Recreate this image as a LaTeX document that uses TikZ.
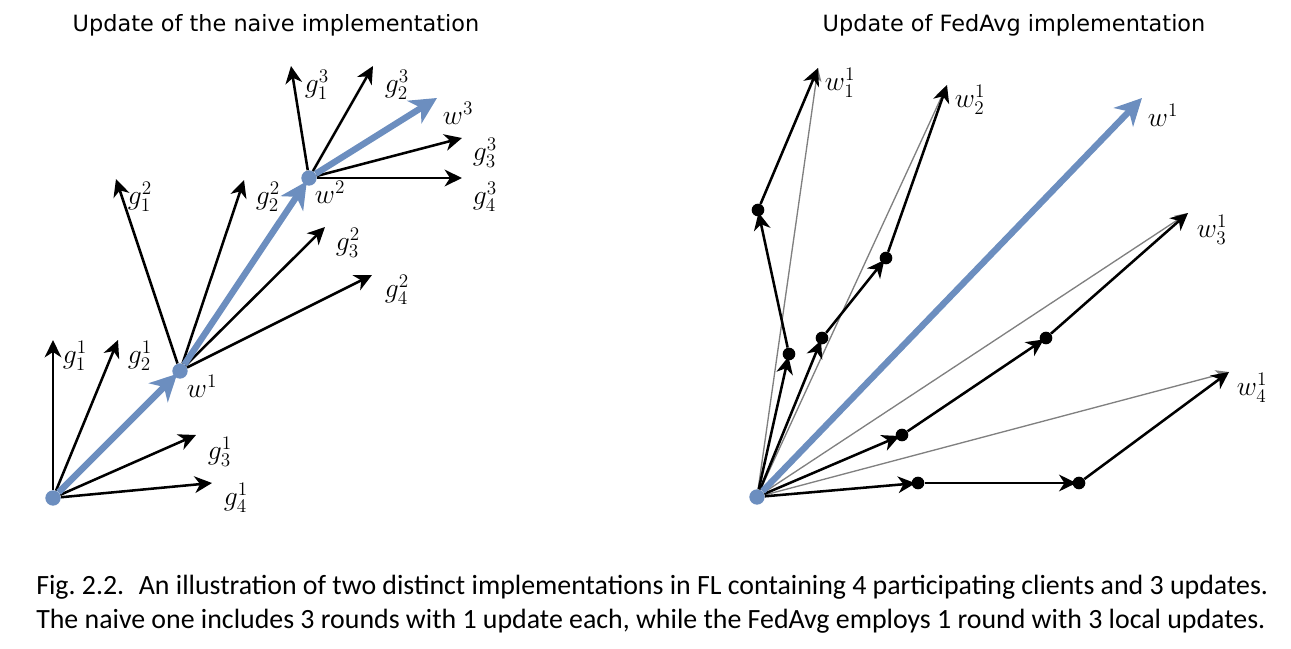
\documentclass[tikz,border=0pt]{standalone}
\usepackage{fontspec}
\newfontfamily\titlefont{DejaVu Sans}
\newfontfamily\captionfont{Carlito}
\usetikzlibrary{arrows.meta}
\definecolor{fedblue}{RGB}{108,142,191}
\tikzset{
  grad/.style={line width=1.9pt,-{Stealth[length=13pt,width=12.5pt,inset=4pt]}},
  avg/.style={line width=4.8pt,fedblue,-{Stealth[length=20pt,width=20pt,inset=6pt]}},
  sum/.style={line width=1pt,gray,-{Stealth[length=10pt,width=8pt,inset=2.5pt]}},
  into/.style={shorten >=-3pt},
  lbl/.style={inner sep=0pt,font=\fontsize{20.74}{24}\selectfont},
  title/.style={inner sep=0pt,font=\titlefont\fontsize{16.8}{20}\selectfont},
  bdot/.style={circle,fill=fedblue,minimum size=11.5pt,inner sep=0pt},
  kdot/.style={circle,fill=black,minimum size=9.5pt,inner sep=0pt}
}
\begin{document}
\begin{tikzpicture}[x=0.75pt,y=-0.75pt]
  \useasboundingbox (0,0) rectangle (1291,649);
  \node[title] (ltitle) at (276,25) {Update of the naive implementation};
  \node[title] (rtitle) at (1014,25) {Update of FedAvg implementation};
  \draw
    (53,498) node[bdot] (o){}
    (180,371) node[bdot] (w1){}
    (309,178) node[bdot] (w2){}
    (437,98) coordinate (w3)
    (53,340) coordinate (g11)
    (118,340) coordinate (g21)
    (196,435) coordinate (g31)
    (212,483) coordinate (g41)
    (116,179) coordinate (g12)
    (244,180) coordinate (g22)
    (325,227) coordinate (g32)
    (372,275) coordinate (g42)
    (291,66) coordinate (g13)
    (373,66) coordinate (g23)
    (462,138) coordinate (g33)
    (462,178) coordinate (g43);
  \begin{scope}[grad]
    \draw (o) to (g11);
    \draw (o) to (g21);
    \draw (o) to (g31);
    \draw (o) to (g41);
    \draw (w1) to (g12);
    \draw (w1) to (g22);
    \draw (w1) to (g32);
    \draw (w1) to (g42);
    \draw (w2) to (g13);
    \draw (w2) to (g23);
    \draw (w2) to (g33);
    \draw (w2) to (g43);
  \end{scope}
  \begin{scope}[avg]
    \draw[into] (o) to (w1);
    \draw[into] (w1) to (w2);
    \draw (w2) to (w3);
  \end{scope}
  \node[lbl] (lg11) at (75,356) {$g_1^1$};
  \node[lbl] (lg21) at (140,356) {$g_2^1$};
  \node[lbl] (lg31) at (220,452) {$g_3^1$};
  \node[lbl] (lg41) at (236,498) {$g_4^1$};
  \node[lbl] (lw1) at (202,386) {$w^1$};
  \node[lbl] (lg12) at (140,197) {$g_1^2$};
  \node[lbl] (lg22) at (268,197) {$g_2^2$};
  \node[lbl] (lg32) at (348,243) {$g_3^2$};
  \node[lbl] (lg42) at (397,290) {$g_4^2$};
  \node[lbl] (lw2) at (330,192) {$w^2$};
  \node[lbl] (lg13) at (317,85) {$g_1^3$};
  \node[lbl] (lg23) at (397,85) {$g_2^3$};
  \node[lbl] (lw3) at (458,113) {$w^3$};
  \node[lbl] (lg33) at (485,153) {$g_3^3$};
  \node[lbl] (lg43) at (485,197) {$g_4^3$};
  \draw
    (757,497) node[bdot] (s){}
    (1142,98) coordinate (w)
    (789,354) node[kdot] (a1){}
    (758,210) node[kdot] (b1){}
    (818,68) coordinate (t1)
    (822,338) node[kdot] (a2){}
    (886,258) node[kdot] (b2){}
    (947,85) coordinate (t2)
    (902,435) node[kdot] (a3){}
    (1046,338) node[kdot] (b3){}
    (1188,213) coordinate (t3)
    (918,483) node[kdot] (a4){}
    (1079,483) node[kdot] (b4){}
    (1229,372) coordinate (t4);
  \begin{scope}[sum]
    \draw (s) to (t1);
    \draw (s) to (t2);
    \draw (s) to (t3);
    \draw (s) to (t4);
  \end{scope}
  \begin{scope}[grad]
    \draw[into] (s) to (a1);
    \draw[into] (a1) to (b1);
    \draw (b1) to (t1);
    \draw[into] (s) to (a2);
    \draw[into] (a2) to (b2);
    \draw (b2) to (t2);
    \draw[into] (s) to (a3);
    \draw[into] (a3) to (b3);
    \draw (b3) to (t3);
    \draw[into] (s) to (a4);
    \draw[into] (a4) to (b4);
    \draw (b4) to (t4);
  \end{scope}
  \draw[avg] (s) to (w);
  \node[lbl] (lt1) at (840,83) {$w_1^1$};
  \node[lbl] (lt2) at (970,100) {$w_2^1$};
  \node[lbl] (lw) at (1163,115) {$w^1$};
  \node[lbl] (lt3) at (1212,230) {$w_3^1$};
  \node[lbl] (lt4) at (1252,388) {$w_4^1$};
  \node[anchor=west,align=left,inner sep=0pt,
    font=\captionfont\fontsize{20.9}{25.5}\selectfont\frenchspacing] (cap) at (36,604)
    {Fig. 2.2.\hspace{0.3em} An illustration of two distinct implementations in FL containing 4 participating clients and 3 updates.\\
     The naive one includes 3 rounds with 1 update each, while the FedAvg employs 1 round with 3 local updates.};
\end{tikzpicture}
\end{document}
